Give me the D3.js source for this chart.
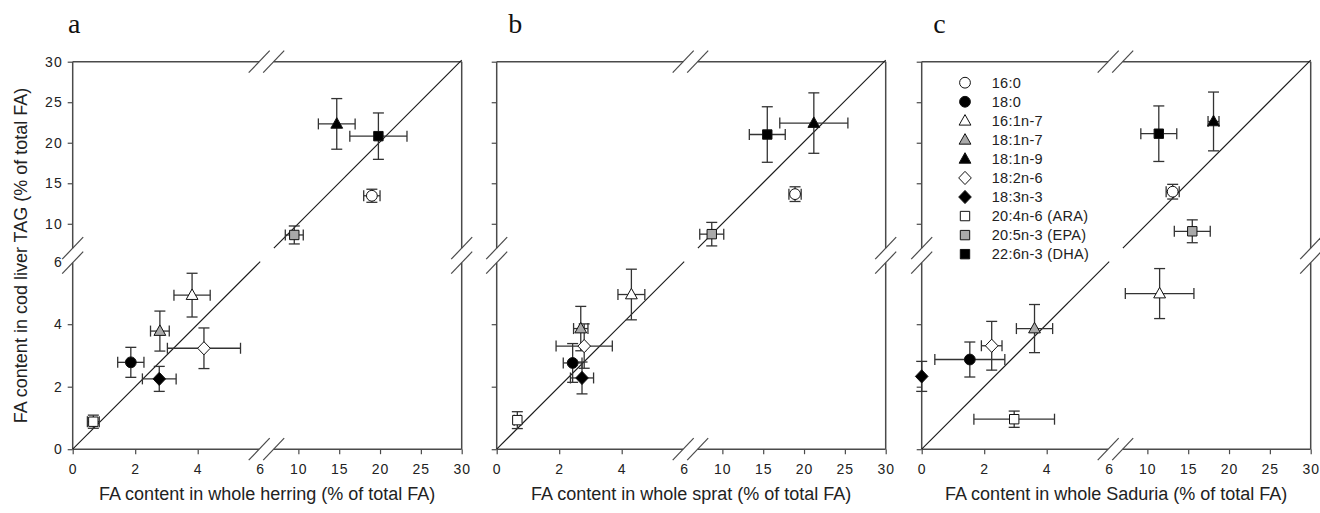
<!DOCTYPE html>
<html>
<head>
<meta charset="utf-8">
<script src="https://cdn.jsdelivr.net/npm/d3@7"></script>
<style>
  body { margin: 0; background: #fff; }
  svg { display: block; font-family: "Liberation Sans", Arial, sans-serif; }
</style>
</head>
<body>
<svg id="chart" width="1320" height="513"></svg>
<script>
// Fatty acids, with their marker shape and fill
const acids  = ["16:0", "18:0", "16:1n-7", "18:1n-7", "18:1n-9", "18:2n-6", "18:3n-3", "20:4n-6 (ARA)", "20:5n-3 (EPA)", "22:6n-3 (DHA)"];
const shapes = ["circle", "circle", "triangle", "triangle", "triangle", "diamond", "diamond", "square", "square", "square"];
const fills  = ["white", "black", "white", "grey", "black", "white", "black", "white", "grey", "black"];

// Broken axes: 0–6 on the first segment, 6–30 on the second
const lowTicks  = [0, 2, 4, 6];
const highTicks = [10, 15, 20, 25, 30];
const breakValue = 6;
const maxValue = 30;

// Herring (panel a): prey content (x) vs cod liver TAG (y), mean ± error
const herringX    = [19.0, 1.86, 3.82, 2.79, 14.7, 4.20, 2.77, 0.66, 9.5, 19.8];
const herringXErr = [1.0, 0.42, 0.58, 0.30, 2.25, 1.17, 0.54, 0.19, 1.1, 3.5];
const herringY    = [13.4, 2.78, 4.93, 3.78, 22.2, 3.23, 2.25, 0.88, 8.6, 20.7];
const herringYErr = [0.8, 0.48, 0.70, 0.64, 3.1, 0.65, 0.40, 0.21, 1.1, 2.84];

// Sprat (panel b)
const spratX    = [18.9, 2.43, 4.31, 2.69, 21.2, 2.80, 2.73, 0.66, 8.7, 15.5];
const spratXErr = [0.75, 0.30, 0.43, 0.23, 4.17, 0.90, 0.37, 0.10, 1.47, 2.2];
const spratY    = [13.6, 2.76, 4.95, 3.86, 22.3, 3.30, 2.28, 0.93, 8.7, 20.9];
const spratYErr = [0.9, 0.62, 0.81, 0.71, 3.7, 0.71, 0.51, 0.27, 1.44, 3.4];

// Saduria (panel c)
const saduriaX    = [13.1, 1.54, 11.5, 3.61, 18.1, 2.24, 0.0, 2.96, 15.5, 11.4];
const saduriaXErr = [0.8, 1.12, 4.2, 0.58, 0.67, 0.33, 0.0, 1.29, 2.2, 2.2];
const saduriaY    = [13.9, 2.87, 4.98, 3.86, 22.5, 3.31, 2.33, 0.96, 9.05, 21.0];
const saduriaYErr = [0.9, 0.56, 0.8, 0.77, 3.6, 0.78, 0.48, 0.26, 1.4, 3.4];

const panelLetters = ["a", "b", "c"];
const xTitles = [
  "FA content in whole herring (% of total FA)",
  "FA content in whole sprat (% of total FA)",
  "FA content in whole Saduria (% of total FA)"
];
const yTitle = "FA content in cod liver TAG (% of total FA)";

// ---- layout ----
const W = 389, H = 387.5;
const LOW_END = 187.5, HIGH_START = 193;
const SLASH = [186.5, 201];         // break mark centres along each axis
const panelLeft = [72.7, 496.7, 921.7];
const letterDx = [-4.7, 11.6, 11.6];
const plotTop = 61.7;

const lowScale  = d3.scaleLinear().domain([0, breakValue]).range([0, LOW_END]);
const highScale = d3.scaleLinear().domain([breakValue, maxValue]).range([HIGH_START, W]);
const pos = v => v <= breakValue ? lowScale(v) : highScale(v);

const greyFill = "#a9a9a9";
const axisColor = "#4a4a4a";
const fillColor = f => f === "grey" ? greyFill : f;

function symbolPath(shape) {
  switch (shape) {
    case "circle":   return "M5.4,0A5.4,5.4,0,1,1,-5.4,0A5.4,5.4,0,1,1,5.4,0Z";
    case "triangle": return "M0,-6.2L5.9,4.3L-5.9,4.3Z";
    case "square":   return "M-4.7,-4.7H4.7V4.7H-4.7Z";
    case "diamond":  return "M0,-6.6L6.3,0L0,6.6L-6.3,0Z";
  }
}

const svg = d3.select("#chart");

const datasets = [
  { x: herringX, xe: herringXErr, y: herringY, ye: herringYErr },
  { x: spratX,   xe: spratXErr,   y: spratY,   ye: spratYErr },
  { x: saduriaX, xe: saduriaXErr, y: saduriaY, ye: saduriaYErr }
];

datasets.forEach((ds, p) => {
  const g = svg.append("g").attr("transform", `translate(${panelLeft[p]},${plotTop})`);
  const X = v => pos(v);
  const Y = v => H - pos(v);

  // frame with breaks on all four sides
  const frame = g.append("g").attr("stroke", axisColor).attr("stroke-width", 1.5).attr("fill", "none");
  [0, H].forEach(yy => {
    frame.append("line").attr("x1", 0).attr("x2", SLASH[0]).attr("y1", yy).attr("y2", yy);
    frame.append("line").attr("x1", SLASH[1]).attr("x2", W).attr("y1", yy).attr("y2", yy);
  });
  [0, W].forEach(xx => {
    frame.append("line").attr("x1", xx).attr("x2", xx).attr("y1", H).attr("y2", H - SLASH[0]);
    frame.append("line").attr("x1", xx).attr("x2", xx).attr("y1", H - SLASH[1]).attr("y2", 0);
  });
  const slashes = g.append("g").attr("stroke", axisColor).attr("stroke-width", 1.2);
  [0, H].forEach(yy => SLASH.forEach(c => {
    slashes.append("line").attr("x1", c - 10.5).attr("y1", yy + 11).attr("x2", c + 10.5).attr("y2", yy - 11);
  }));
  [0, W].forEach(xx => SLASH.forEach(c => {
    slashes.append("line").attr("x1", xx - 10.5).attr("y1", H - c + 11).attr("x2", xx + 10.5).attr("y2", H - c - 11);
  }));

  // axes (ticks + labels); the frame replaces the domain lines
  const styleAxis = sel => {
    sel.select(".domain").remove();
    sel.attr("font-size", 14).attr("font-family", "'Liberation Sans', Arial, sans-serif");
    sel.selectAll(".tick line").attr("stroke", axisColor).attr("stroke-width", 1.2);
    sel.selectAll(".tick text").attr("fill", "#222").style("font-size", "14px")
       .style("letter-spacing", "1px");
    sel.selectAll(".tick").filter(d => d === breakValue).select("line").remove();
  };

  const xLow  = d3.axisBottom(lowScale).tickValues(lowTicks).tickSize(5).tickPadding(10).tickFormat(d3.format("d"));
  const xHigh = d3.axisBottom(highScale).tickValues(highTicks).tickSize(5).tickPadding(10).tickFormat(d3.format("d"));
  g.append("g").attr("transform", `translate(0,${H})`).call(xLow).call(styleAxis);
  g.append("g").attr("transform", `translate(0,${H})`).call(xHigh).call(styleAxis);

  const yLowScale  = d3.scaleLinear().domain([0, breakValue]).range([H, H - LOW_END]);
  const yHighScale = d3.scaleLinear().domain([breakValue, maxValue]).range([H - HIGH_START, 0]);
  const yFmt = p === 0 ? d3.format("d") : () => "";
  g.append("g").call(d3.axisLeft(yLowScale).tickValues(lowTicks).tickSize(5).tickPadding(5).tickFormat(yFmt)).call(styleAxis);
  g.append("g").call(d3.axisLeft(yHighScale).tickValues(highTicks).tickSize(5).tickPadding(5).tickFormat(yFmt)).call(styleAxis);

  // 1:1 reference line, drawn separately in each segment
  const ref = g.append("g").attr("stroke", "#1a1a1a").attr("stroke-width", 1.1);
  ref.append("line").attr("x1", X(0)).attr("y1", Y(0)).attr("x2", X(breakValue)).attr("y2", Y(breakValue));
  ref.append("line").attr("x1", X(7)).attr("y1", Y(7)).attr("x2", X(maxValue)).attr("y2", Y(maxValue));

  // error bars
  const eb = g.append("g").attr("stroke", "#333").attr("stroke-width", 1.3);
  acids.forEach((_, i) => {
    const cx = X(ds.x[i]), cy = Y(ds.y[i]);
    const cap = 5.5;
    if (ds.xe[i] > 0) {
      const a = X(ds.x[i] - ds.xe[i]), b = X(ds.x[i] + ds.xe[i]);
      eb.append("line").attr("x1", a).attr("x2", b).attr("y1", cy).attr("y2", cy);
      eb.append("line").attr("x1", a).attr("x2", a).attr("y1", cy - cap).attr("y2", cy + cap);
      eb.append("line").attr("x1", b).attr("x2", b).attr("y1", cy - cap).attr("y2", cy + cap);
    }
    if (ds.ye[i] > 0) {
      const a = Y(ds.y[i] - ds.ye[i]), b = Y(ds.y[i] + ds.ye[i]);
      eb.append("line").attr("x1", cx).attr("x2", cx).attr("y1", a).attr("y2", b);
      eb.append("line").attr("x1", cx - cap).attr("x2", cx + cap).attr("y1", a).attr("y2", a);
      eb.append("line").attr("x1", cx - cap).attr("x2", cx + cap).attr("y1", b).attr("y2", b);
    }
  });

  // markers
  g.append("g").selectAll("path").data(acids).join("path")
    .attr("d", (d, i) => symbolPath(shapes[i]))
    .attr("transform", (d, i) => `translate(${X(ds.x[i])},${Y(ds.y[i])})`)
    .attr("fill", (d, i) => fillColor(fills[i]))
    .attr("stroke", "#111").attr("stroke-width", 1);

  // panel letter
  svg.append("text").attr("x", panelLeft[p] + letterDx[p]).attr("y", 33)
    .style("font-family", "'Liberation Serif', 'Times New Roman', serif")
    .style("font-size", "28px").attr("fill", "#111").text(panelLetters[p]);

  // x title
  svg.append("text").attr("x", panelLeft[p] + W / 2).attr("y", 500)
    .attr("text-anchor", "middle").style("font-size", "18px").attr("fill", "#222")
    .text(xTitles[p]);
});

// y title
svg.append("text").attr("transform", `translate(27,${plotTop + H / 2}) rotate(-90)`)
  .attr("text-anchor", "middle").style("font-size", "18px").attr("fill", "#222")
  .text(yTitle);

// legend in panel c
const legend = svg.append("g").attr("transform", `translate(${panelLeft[2]},0)`);
acids.forEach((name, i) => {
  const yy = 82.7 + i * 19.05;
  legend.append("path").attr("d", symbolPath(shapes[i]))
    .attr("transform", `translate(43.3,${yy})`)
    .attr("fill", fillColor(fills[i])).attr("stroke", "#111").attr("stroke-width", 1);
  legend.append("text").attr("x", 70).attr("y", yy).attr("dy", "0.36em")
    .style("font-size", "14.5px").style("letter-spacing", "0.3px").attr("fill", "#222").text(name);
});
</script>
</body>
</html>
